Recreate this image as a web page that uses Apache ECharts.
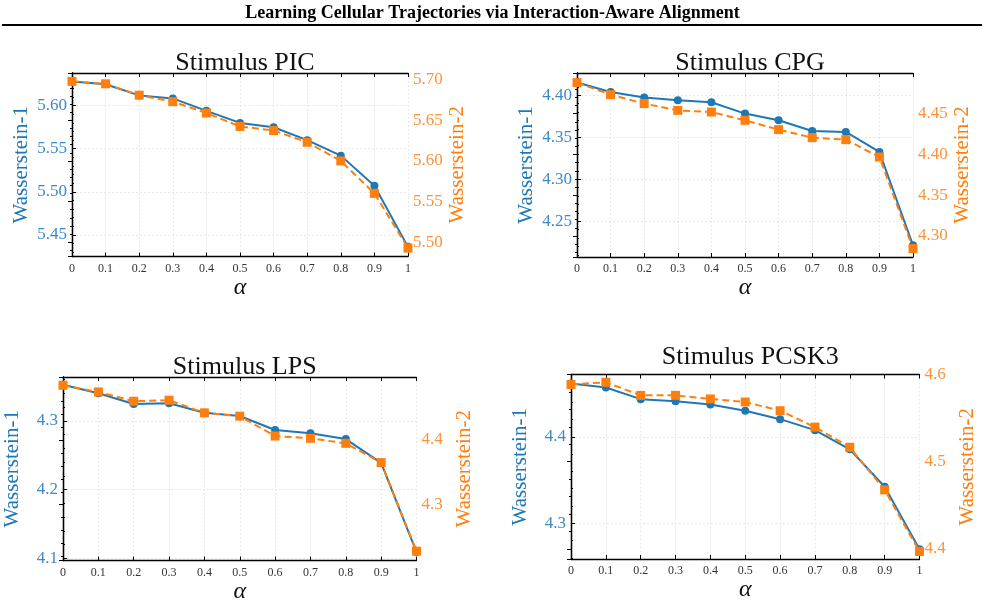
<!DOCTYPE html>
<html>
<head>
<meta charset="utf-8">
<script src="https://cdn.jsdelivr.net/npm/echarts@6/dist/echarts.min.js"></script>
<style>
  html, body { margin: 0; padding: 0; background: #fff; }
  #main { width: 985px; height: 605px; }
</style>
</head>
<body>
<div id="main"></div>
<script>
// alpha values on the x axis
var alpha = [0, 0.1, 0.2, 0.3, 0.4, 0.5, 0.6, 0.7, 0.8, 0.9, 1];

// Stimulus PIC
var picW1 = [5.628, 5.625, 5.612, 5.6085, 5.594, 5.580, 5.575, 5.560, 5.542, 5.507, 5.436];
var picW2 = [5.698, 5.695, 5.681, 5.673, 5.659, 5.6425, 5.6375, 5.623, 5.600, 5.560, 5.4926];
// Stimulus CPG
var cpgW1 = [4.4151, 4.4039, 4.3973, 4.394, 4.3917, 4.3782, 4.3702, 4.3575, 4.3563, 4.3325, 4.2214];
var cpgW2 = [4.488, 4.4733, 4.4623, 4.454, 4.452, 4.4418, 4.4304, 4.4206, 4.4181, 4.3968, 4.2846];
// Stimulus LPS
var lpsW1 = [4.3526, 4.3404, 4.3248, 4.3258, 4.3121, 4.3073, 4.2869, 4.282, 4.2737, 4.2391, 4.1092];
var lpsW2 = [4.4846, 4.4743, 4.460, 4.4615, 4.442, 4.4369, 4.4062, 4.4026, 4.3949, 4.3651, 4.2282];
// Stimulus PCSK3
var pcskW1 = [4.4616, 4.457, 4.4435, 4.4412, 4.4374, 4.430, 4.4204, 4.4077, 4.3855, 4.3423, 4.2701];
var pcskW2 = [4.5885, 4.5911, 4.5761, 4.5761, 4.572, 4.5685, 4.5585, 4.5397, 4.5166, 4.4677, 4.397];

var titles = ['Stimulus PIC', 'Stimulus CPG', 'Stimulus LPS', 'Stimulus PCSK3'];

var panels = [
  { w1: picW1, w2: picW2, grid: { left: 72, top: 73, width: 336, height: 183.5 }, titleY: 60,
    l: [5.4248, 5.638], r: [5.4823, 5.7083], step: 0.05, dec: 2, rMax: false },
  { w1: cpgW1, w2: cpgW2, grid: { left: 577, top: 73, width: 336, height: 184 }, titleY: 60,
    l: [4.2075, 4.4265], r: [4.2743, 4.4998], step: 0.05, dec: 2, rMax: false },
  { w1: lpsW1, w2: lpsW2, grid: { left: 63, top: 377, width: 353.5, height: 183.5 }, titleY: 364,
    l: [4.097, 4.364], r: [4.2138, 4.4974], step: 0.1, dec: 1, rMax: false },
  { w1: pcskW1, w2: pcskW2, grid: { left: 571, top: 374.5, width: 348.5, height: 184.5 }, titleY: 354,
    l: [4.2588, 4.472], r: [4.3885, 4.6], step: 0.1, dec: 1, rMax: true }
];

var serif = 'Liberation Serif';
var blue = '#1f77b4';
var orange = '#ff7f0e';
var gridLine = { show: true, lineStyle: { color: '#e2e2e2', width: 0.8, type: [2, 2] } };

var chartDom = document.getElementById('main');
var myChart = echarts.init(chartDom, null, { renderer: 'canvas' });

var grids = [], xAxes = [], yAxes = [], series = [], titleList = [];

panels.forEach(function (p, i) {
  grids.push(Object.assign({ containLabel: false }, p.grid));

  titleList.push({
    text: titles[i],
    left: p.grid.left + p.grid.width / 2,
    top: p.titleY - 15,
    textAlign: 'center',
    textStyle: { fontFamily: serif, fontSize: 26, fontWeight: 'normal', color: '#111' }
  });

  // bottom x axis
  xAxes.push({
    type: 'value', gridIndex: i, position: 'bottom', min: 0, max: 1, interval: 0.1,
    axisLine: { show: true, lineStyle: { color: '#000', width: 1.3 } },
    axisTick: { inside: true, length: 4, lineStyle: { color: '#000' } },
    axisLabel: {
      color: '#333', fontFamily: serif, fontSize: 12, margin: 6,
      formatter: function (v) { return (v === 0 || v === 1) ? String(v) : v.toFixed(1); }
    },
    splitLine: gridLine,
    name: 'α', nameLocation: 'middle', nameGap: 18,
    nameTextStyle: { fontFamily: serif, fontStyle: 'italic', fontSize: 24, color: '#111' }
  });
  // top x axis (frame with ticks)
  xAxes.push({
    type: 'value', gridIndex: i, position: 'top', min: 0, max: 1, interval: 0.1,
    axisLine: { show: true, lineStyle: { color: '#000', width: 1.3 } },
    axisTick: { inside: true, length: 4, lineStyle: { color: '#000' } },
    axisLabel: { show: false },
    splitLine: { show: false }
  });

  var split = p.step === 0.05 ? 4 : 2;
  yAxes.push({
    type: 'value', gridIndex: i, position: 'left', min: p.l[0], max: p.l[1],
    splitNumber: split, minInterval: p.step, maxInterval: p.step,
    axisLine: { show: true, lineStyle: { color: '#000', width: 1.3 } },
    axisTick: { inside: true, length: 4, lineStyle: { color: '#000' } },
    minorTick: { show: true, splitNumber: 5, length: 2, lineStyle: { color: '#000' } },
    axisLabel: {
      showMinLabel: false, showMaxLabel: false, margin: 5,
      color: '#3f89c6', fontFamily: serif, fontSize: 17,
      formatter: function (v) { return v.toFixed(p.dec); }
    },
    splitLine: gridLine,
    name: 'Wasserstein-1', nameLocation: 'middle', nameRotate: 90, nameGap: 40,
    nameTextStyle: { fontFamily: serif, fontSize: 21, color: blue }
  });
  yAxes.push({
    type: 'value', gridIndex: i, position: 'right', min: p.r[0], max: p.r[1],
    splitNumber: split, minInterval: p.step, maxInterval: p.step,
    axisLine: { show: true, lineStyle: { color: '#000', width: 1.3 } },
    axisTick: { inside: true, length: 4, lineStyle: { color: '#000' } },
    minorTick: { show: true, splitNumber: 5, length: 2, lineStyle: { color: '#000' } },
    axisLabel: {
      showMinLabel: false, showMaxLabel: p.rMax, margin: 5,
      color: '#fd9238', fontFamily: serif, fontSize: 17,
      formatter: function (v) { return v.toFixed(p.dec); }
    },
    splitLine: { show: false },
    name: 'Wasserstein-2', nameLocation: 'middle', nameRotate: 90, nameGap: 37,
    nameTextStyle: { fontFamily: serif, fontSize: 21, color: orange }
  });

  series.push({
    type: 'line', xAxisIndex: 2 * i, yAxisIndex: 2 * i,
    data: alpha.map(function (a, k) { return [a, p.w1[k]]; }),
    symbol: 'circle', symbolSize: 8,
    lineStyle: { color: blue, width: 2 },
    itemStyle: { color: blue },
    z: 2
  });
  series.push({
    type: 'line', xAxisIndex: 2 * i, yAxisIndex: 2 * i + 1,
    data: alpha.map(function (a, k) { return [a, p.w2[k]]; }),
    symbol: 'rect', symbolSize: 9,
    lineStyle: { color: orange, width: 2, type: [7, 4] },
    itemStyle: { color: orange },
    z: 3
  });
});

var option = {
  animation: false,
  backgroundColor: '#fff',
  title: titleList,
  grid: grids,
  xAxis: xAxes,
  yAxis: yAxes,
  series: series,
  graphic: [
    {
      type: 'text', left: 'center', top: 4,
      style: {
        text: 'Learning Cellular Trajectories via Interaction-Aware Alignment',
        font: 'bold 18px "Liberation Serif"', fill: '#000'
      }
    },
    {
      type: 'line', shape: { x1: 2, y1: 25, x2: 982, y2: 25 },
      style: { stroke: '#000', lineWidth: 2 }
    }
  ]
};

option && myChart.setOption(option);
</script>
</body>
</html>
